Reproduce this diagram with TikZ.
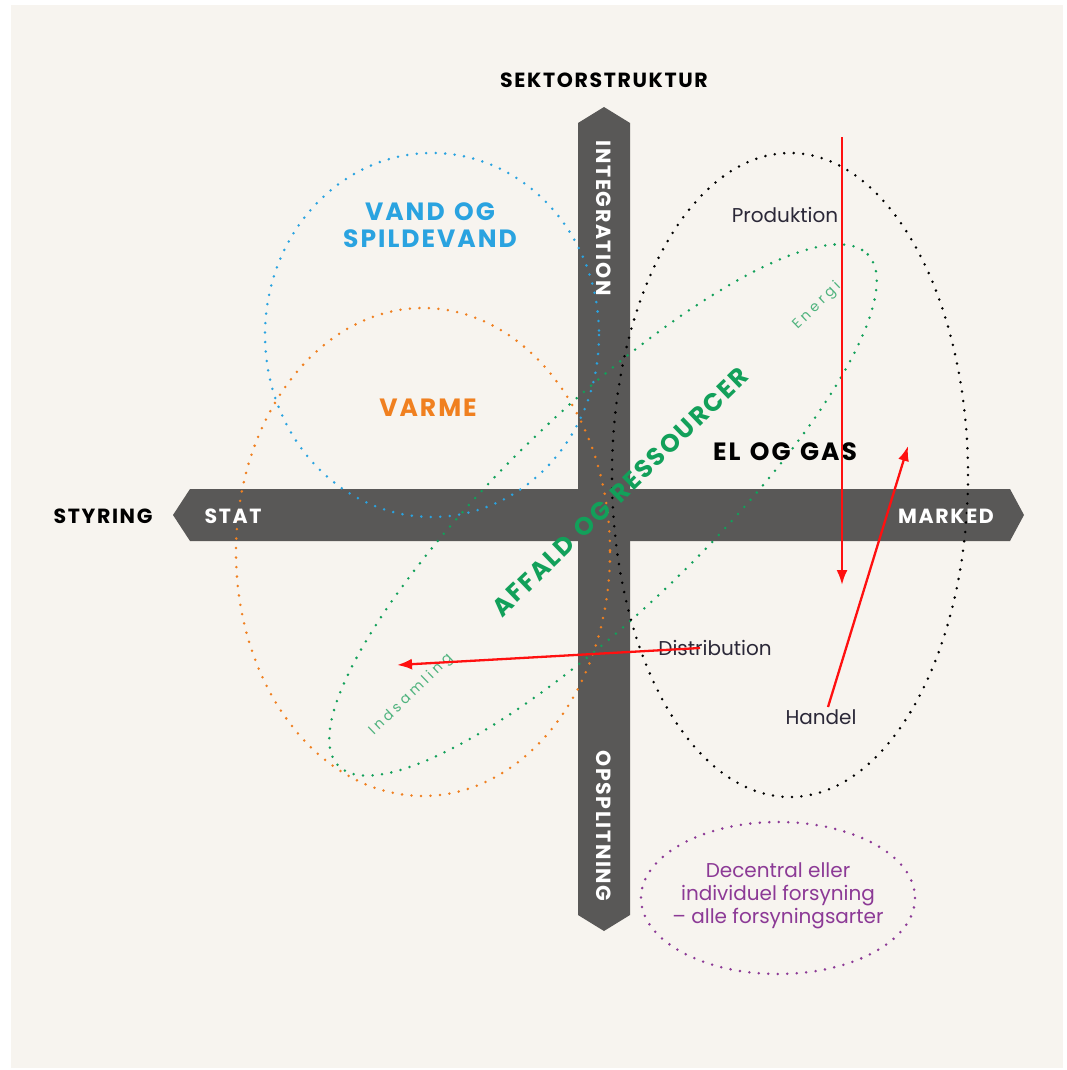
\documentclass[tikz,border=0pt]{standalone}
\usepackage{fontspec}
\setmainfont{Poppins}
\newfontfamily\capsfont{Poppins}[LetterSpace=8]
\usetikzlibrary{arrows.meta,positioning}

\definecolor{bgbeige}{HTML}{F7F4EF}
\definecolor{bargrey}{HTML}{595857}
\definecolor{vandblue}{HTML}{2AA3E0}
\definecolor{varmeorange}{HTML}{F08020}
\definecolor{affaldgreen}{HTML}{12A05A}
\definecolor{energigreen}{HTML}{4FB37E}
\definecolor{decpurple}{HTML}{8C3A96}
\definecolor{pilred}{HTML}{FF1010}
\definecolor{tekstdark}{HTML}{2B2838}

\newcommand{\ordgap}{\hspace{0.38em}}

\tikzset{
  dots/.style={line width=2.8pt, line cap=round, dash pattern=on 0pt off 9.5pt},
  bigcap/.style={font=\capsfont\bfseries\fontsize{25}{27}\selectfont, align=center},
  axiscap/.style={font=\capsfont\bfseries\fontsize{20.5}{20.5}\selectfont},
  small/.style={font=\fontsize{20}{23}\selectfont, text=tekstdark},
  tiny/.style={font=\addfontfeature{LetterSpace=25}\fontsize{14}{14}\selectfont, text=energigreen},
  pil/.style={draw=pilred, line width=2.3pt, -{Latex[length=15pt,width=11pt]}}
}

\begin{document}
\begin{tikzpicture}[x=1pt, y=-1pt]
        \useasboundingbox (0,0) rectangle (1066,1070);
        \fill[white] (0,0) rectangle (1066,1070);
        \fill[bgbeige] (11,5) rectangle (1063,1068);

        \fill[bargrey] (173,515) -- (190,489) -- (1010,489) -- (1024,515) -- (1010,541) -- (190,541) -- cycle;
        \fill[bargrey] (604,107) -- (630,123) -- (630,915) -- (604,931) -- (578,915) -- (578,123) -- cycle;

        \draw[dots, vandblue] (432,335) ellipse [x radius=167, y radius=182];
        \draw[dots, varmeorange] (423,552) ellipse [x radius=187, y radius=244];
        \draw[dots, affaldgreen, rotate around={44:(603,510)}] (603,510) ellipse [x radius=368, y radius=100];
        \draw[dots, black] (790,475) ellipse [x radius=178, y radius=322];
        \draw[dots, decpurple] (778,898) ellipse [x radius=137, y radius=76];

        \node[axiscap](SEKTOR) at (604,80){SEKTORSTRUKTUR};
        \node[axiscap](STYRING) at (103,516){STYRING};
        \node[axiscap, text=white](STAT) at (233,516){STAT};
        \node[axiscap, text=white](MARKED) at (946,516){MARKED};
        \node[axiscap, text=white, rotate=-90](INTEG) at (604,218){INTEGRATION};
        \node[axiscap, text=white, rotate=-90](OPSPL) at (604,826){OPSPLITNING};

        \node[bigcap, text=vandblue](VAND) at (430,225){VAND\ordgap OG\\SPILDEVAND};
        \node[bigcap, text=varmeorange](VARME) at (428,408){VARME};
        \node[bigcap, text=black](ELGAS) at (785,452){EL\ordgap OG\ordgap GAS};
        \node[bigcap, text=affaldgreen, rotate=44](AFFALD) at (620,492){AFFALD\ordgap OG\ordgap RESSOURCER};
        \node[tiny, rotate=44](ENERGI) at (817,306){Energi};
        \node[tiny, rotate=44](INDSAM) at (411,695){Indsamling};

        \node[small](PROD) at (785,215){Produktion};
        \node[small](DIST) at (715,648){Distribution};
        \node[small](HANDEL) at (821,717){Handel};
        \node[small, text=decpurple, align=center](DECENT) at (778,896){Decentral eller\\individuel forsyning\\– alle forsyningsarter};

        \coordinate (P1A) at (842,137);
        \coordinate (P1B) at (842,585);
        \coordinate (P2A) at (828,707);
        \coordinate (P2B) at (908,446);
        \coordinate (P3A) at (700,648);
        \coordinate (P3B) at (397,665);

        \draw[pil] (P1A) -- (P1B);
        \draw[pil] (P2A) -- (P2B);
        \draw[pil] (P3A) -- (P3B);
    \end{tikzpicture}
\end{document}
